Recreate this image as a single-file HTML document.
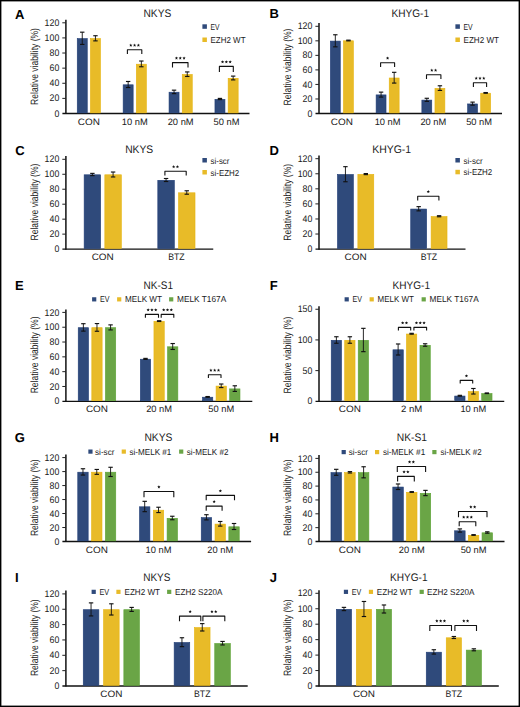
<!DOCTYPE html>
<html><head><meta charset="utf-8"><style>
html,body{margin:0;padding:0;background:#fff;}
body{width:520px;height:707px;overflow:hidden;}
svg{display:block;font-family:"Liberation Sans", sans-serif;text-rendering:geometricPrecision;}
</style></head><body>
<svg width="520" height="707" viewBox="0 0 520 707">
<rect x="0" y="0" width="520" height="707" fill="#fff"/>
<text x="15.00" y="18.70" font-size="13.0" text-anchor="start" font-weight="bold" fill="#000">A</text>
<text x="143.50" y="17.00" font-size="11.0" text-anchor="start" font-weight="normal" fill="#1a1a1a" textLength="27.80" lengthAdjust="spacingAndGlyphs">NKYS</text>
<line x1="65.90" y1="19.80" x2="65.90" y2="114.10" stroke="#111" stroke-width="1.5"/>
<line x1="62.40" y1="113.50" x2="249.50" y2="113.50" stroke="#111" stroke-width="1.35"/>
<text x="59.30" y="116.60" font-size="9.6" text-anchor="end" font-weight="normal" fill="#1a1a1a" textLength="4.89" lengthAdjust="spacingAndGlyphs">0</text>
<line x1="62.30" y1="98.38" x2="65.90" y2="98.38" stroke="#222" stroke-width="1.0"/>
<text x="59.30" y="101.48" font-size="9.6" text-anchor="end" font-weight="normal" fill="#1a1a1a" textLength="9.79" lengthAdjust="spacingAndGlyphs">20</text>
<line x1="62.30" y1="83.27" x2="65.90" y2="83.27" stroke="#222" stroke-width="1.0"/>
<text x="59.30" y="86.37" font-size="9.6" text-anchor="end" font-weight="normal" fill="#1a1a1a" textLength="9.79" lengthAdjust="spacingAndGlyphs">40</text>
<line x1="62.30" y1="68.15" x2="65.90" y2="68.15" stroke="#222" stroke-width="1.0"/>
<text x="59.30" y="71.25" font-size="9.6" text-anchor="end" font-weight="normal" fill="#1a1a1a" textLength="9.79" lengthAdjust="spacingAndGlyphs">60</text>
<line x1="62.30" y1="53.03" x2="65.90" y2="53.03" stroke="#222" stroke-width="1.0"/>
<text x="59.30" y="56.13" font-size="9.6" text-anchor="end" font-weight="normal" fill="#1a1a1a" textLength="9.79" lengthAdjust="spacingAndGlyphs">80</text>
<line x1="62.30" y1="37.92" x2="65.90" y2="37.92" stroke="#222" stroke-width="1.0"/>
<text x="59.30" y="41.02" font-size="9.6" text-anchor="end" font-weight="normal" fill="#1a1a1a" textLength="14.68" lengthAdjust="spacingAndGlyphs">100</text>
<line x1="62.30" y1="22.80" x2="65.90" y2="22.80" stroke="#222" stroke-width="1.0"/>
<text x="59.30" y="25.90" font-size="9.6" text-anchor="end" font-weight="normal" fill="#1a1a1a" textLength="14.68" lengthAdjust="spacingAndGlyphs">120</text>
<rect x="77.25" y="38.60" width="10.00" height="74.30" fill="#2f4a7b" stroke="#1f3c76" stroke-width="0.6"/>
<line x1="82.25" y1="32.18" x2="82.25" y2="44.42" stroke="#111" stroke-width="0.9"/>
<line x1="80.05" y1="32.18" x2="84.45" y2="32.18" stroke="#111" stroke-width="1.15"/>
<line x1="80.05" y1="44.42" x2="84.45" y2="44.42" stroke="#111" stroke-width="1.15"/>
<rect x="90.45" y="38.60" width="10.00" height="74.30" fill="#e8bb28" stroke="#e6b40c" stroke-width="0.6"/>
<line x1="95.45" y1="35.73" x2="95.45" y2="40.87" stroke="#111" stroke-width="0.9"/>
<line x1="93.25" y1="35.73" x2="97.65" y2="35.73" stroke="#111" stroke-width="1.15"/>
<line x1="93.25" y1="40.87" x2="97.65" y2="40.87" stroke="#111" stroke-width="1.15"/>
<text x="88.85" y="124.50" font-size="9.3" text-anchor="middle" font-weight="normal" fill="#1a1a1a" textLength="22.10" lengthAdjust="spacingAndGlyphs">CON</text>
<rect x="123.15" y="84.80" width="10.00" height="28.10" fill="#2f4a7b" stroke="#1f3c76" stroke-width="0.6"/>
<line x1="128.15" y1="81.48" x2="128.15" y2="87.52" stroke="#111" stroke-width="0.9"/>
<line x1="125.95" y1="81.48" x2="130.35" y2="81.48" stroke="#111" stroke-width="1.15"/>
<line x1="125.95" y1="87.52" x2="130.35" y2="87.52" stroke="#111" stroke-width="1.15"/>
<rect x="136.35" y="64.20" width="10.00" height="48.70" fill="#e8bb28" stroke="#e6b40c" stroke-width="0.6"/>
<line x1="141.35" y1="61.03" x2="141.35" y2="66.77" stroke="#111" stroke-width="0.9"/>
<line x1="139.15" y1="61.03" x2="143.55" y2="61.03" stroke="#111" stroke-width="1.15"/>
<line x1="139.15" y1="66.77" x2="143.55" y2="66.77" stroke="#111" stroke-width="1.15"/>
<text x="134.75" y="124.50" font-size="9.3" text-anchor="middle" font-weight="normal" fill="#1a1a1a" textLength="25.90" lengthAdjust="spacingAndGlyphs">10 nM</text>
<rect x="169.05" y="92.20" width="10.00" height="20.70" fill="#2f4a7b" stroke="#1f3c76" stroke-width="0.6"/>
<line x1="174.05" y1="90.16" x2="174.05" y2="93.64" stroke="#111" stroke-width="0.9"/>
<line x1="171.85" y1="90.16" x2="176.25" y2="90.16" stroke="#111" stroke-width="1.15"/>
<line x1="171.85" y1="93.64" x2="176.25" y2="93.64" stroke="#111" stroke-width="1.15"/>
<rect x="182.25" y="74.50" width="10.00" height="38.40" fill="#e8bb28" stroke="#e6b40c" stroke-width="0.6"/>
<line x1="187.25" y1="71.93" x2="187.25" y2="76.46" stroke="#111" stroke-width="0.9"/>
<line x1="185.05" y1="71.93" x2="189.45" y2="71.93" stroke="#111" stroke-width="1.15"/>
<line x1="185.05" y1="76.46" x2="189.45" y2="76.46" stroke="#111" stroke-width="1.15"/>
<text x="180.65" y="124.50" font-size="9.3" text-anchor="middle" font-weight="normal" fill="#1a1a1a" textLength="25.90" lengthAdjust="spacingAndGlyphs">20 nM</text>
<rect x="214.95" y="99.30" width="10.00" height="13.60" fill="#2f4a7b" stroke="#1f3c76" stroke-width="0.6"/>
<line x1="219.95" y1="98.40" x2="219.95" y2="99.61" stroke="#111" stroke-width="0.9"/>
<line x1="217.75" y1="98.40" x2="222.15" y2="98.40" stroke="#111" stroke-width="1.15"/>
<line x1="217.75" y1="99.61" x2="222.15" y2="99.61" stroke="#111" stroke-width="1.15"/>
<rect x="228.15" y="78.30" width="10.00" height="34.60" fill="#e8bb28" stroke="#e6b40c" stroke-width="0.6"/>
<line x1="233.15" y1="76.11" x2="233.15" y2="79.89" stroke="#111" stroke-width="0.9"/>
<line x1="230.95" y1="76.11" x2="235.35" y2="76.11" stroke="#111" stroke-width="1.15"/>
<line x1="230.95" y1="79.89" x2="235.35" y2="79.89" stroke="#111" stroke-width="1.15"/>
<text x="226.55" y="124.50" font-size="9.3" text-anchor="middle" font-weight="normal" fill="#1a1a1a" textLength="25.90" lengthAdjust="spacingAndGlyphs">50 nM</text>
<polyline points="127.40,53.90 127.40,49.80 141.80,49.80 141.80,53.90" fill="none" stroke="#111" stroke-width="1.1" stroke-linejoin="round"/>
<polygon points="130.80,43.60 131.26,44.67 132.42,44.77 131.54,45.54 131.80,46.68 130.80,46.08 129.80,46.68 130.06,45.54 129.18,44.77 130.34,44.67" fill="#111"/>
<polygon points="134.60,43.60 135.06,44.67 136.22,44.77 135.34,45.54 135.60,46.68 134.60,46.08 133.60,46.68 133.86,45.54 132.98,44.77 134.14,44.67" fill="#111"/>
<polygon points="138.40,43.60 138.86,44.67 140.02,44.77 139.14,45.54 139.40,46.68 138.40,46.08 137.40,46.68 137.66,45.54 136.78,44.77 137.94,44.67" fill="#111"/>
<polyline points="172.50,67.40 172.50,62.60 188.00,62.60 188.00,67.40" fill="none" stroke="#111" stroke-width="1.1" stroke-linejoin="round"/>
<polygon points="176.45,56.40 176.91,57.47 178.07,57.57 177.19,58.34 177.45,59.48 176.45,58.88 175.45,59.48 175.71,58.34 174.83,57.57 175.99,57.47" fill="#111"/>
<polygon points="180.25,56.40 180.71,57.47 181.87,57.57 180.99,58.34 181.25,59.48 180.25,58.88 179.25,59.48 179.51,58.34 178.63,57.57 179.79,57.47" fill="#111"/>
<polygon points="184.05,56.40 184.51,57.47 185.67,57.57 184.79,58.34 185.05,59.48 184.05,58.88 183.05,59.48 183.31,58.34 182.43,57.57 183.59,57.47" fill="#111"/>
<polyline points="219.40,71.90 219.40,66.40 233.30,66.40 233.30,71.90" fill="none" stroke="#111" stroke-width="1.1" stroke-linejoin="round"/>
<polygon points="222.55,60.20 223.01,61.27 224.17,61.37 223.29,62.14 223.55,63.28 222.55,62.68 221.55,63.28 221.81,62.14 220.93,61.37 222.09,61.27" fill="#111"/>
<polygon points="226.35,60.20 226.81,61.27 227.97,61.37 227.09,62.14 227.35,63.28 226.35,62.68 225.35,63.28 225.61,62.14 224.73,61.37 225.89,61.27" fill="#111"/>
<polygon points="230.15,60.20 230.61,61.27 231.77,61.37 230.89,62.14 231.15,63.28 230.15,62.68 229.15,63.28 229.41,62.14 228.53,61.37 229.69,61.27" fill="#111"/>
<rect x="202.40" y="24.30" width="4.50" height="4.50" fill="#2f4a7b"/>
<text x="210.50" y="29.80" font-size="8.6" text-anchor="start" font-weight="normal" fill="#1a1a1a" textLength="9.00" lengthAdjust="spacingAndGlyphs">EV</text>
<rect x="202.40" y="37.50" width="4.50" height="4.50" fill="#e8bb28"/>
<text x="210.50" y="43.00" font-size="8.6" text-anchor="start" font-weight="normal" fill="#1a1a1a" textLength="35.00" lengthAdjust="spacingAndGlyphs">EZH2 WT</text>
<text transform="translate(37.60,66.50) rotate(-90)" x="0" y="0" font-size="10.6" text-anchor="middle" fill="#1a1a1a" textLength="76.8" lengthAdjust="spacingAndGlyphs">Relative viability (%)</text>
<text x="269.50" y="18.40" font-size="13.0" text-anchor="start" font-weight="bold" fill="#000">B</text>
<text x="391.50" y="17.00" font-size="11.0" text-anchor="start" font-weight="normal" fill="#1a1a1a" textLength="37.50" lengthAdjust="spacingAndGlyphs">KHYG-1</text>
<line x1="319.00" y1="23.00" x2="319.00" y2="114.10" stroke="#111" stroke-width="1.5"/>
<line x1="315.50" y1="113.50" x2="502.00" y2="113.50" stroke="#111" stroke-width="1.35"/>
<text x="312.40" y="116.60" font-size="9.6" text-anchor="end" font-weight="normal" fill="#1a1a1a" textLength="4.89" lengthAdjust="spacingAndGlyphs">0</text>
<line x1="315.40" y1="98.97" x2="319.00" y2="98.97" stroke="#222" stroke-width="1.0"/>
<text x="312.40" y="102.07" font-size="9.6" text-anchor="end" font-weight="normal" fill="#1a1a1a" textLength="9.79" lengthAdjust="spacingAndGlyphs">20</text>
<line x1="315.40" y1="84.43" x2="319.00" y2="84.43" stroke="#222" stroke-width="1.0"/>
<text x="312.40" y="87.53" font-size="9.6" text-anchor="end" font-weight="normal" fill="#1a1a1a" textLength="9.79" lengthAdjust="spacingAndGlyphs">40</text>
<line x1="315.40" y1="69.90" x2="319.00" y2="69.90" stroke="#222" stroke-width="1.0"/>
<text x="312.40" y="73.00" font-size="9.6" text-anchor="end" font-weight="normal" fill="#1a1a1a" textLength="9.79" lengthAdjust="spacingAndGlyphs">60</text>
<line x1="315.40" y1="55.37" x2="319.00" y2="55.37" stroke="#222" stroke-width="1.0"/>
<text x="312.40" y="58.47" font-size="9.6" text-anchor="end" font-weight="normal" fill="#1a1a1a" textLength="9.79" lengthAdjust="spacingAndGlyphs">80</text>
<line x1="315.40" y1="40.83" x2="319.00" y2="40.83" stroke="#222" stroke-width="1.0"/>
<text x="312.40" y="43.93" font-size="9.6" text-anchor="end" font-weight="normal" fill="#1a1a1a" textLength="14.68" lengthAdjust="spacingAndGlyphs">100</text>
<line x1="315.40" y1="26.30" x2="319.00" y2="26.30" stroke="#222" stroke-width="1.0"/>
<text x="312.40" y="29.40" font-size="9.6" text-anchor="end" font-weight="normal" fill="#1a1a1a" textLength="14.68" lengthAdjust="spacingAndGlyphs">120</text>
<rect x="330.37" y="41.10" width="9.90" height="71.80" fill="#2f4a7b" stroke="#1f3c76" stroke-width="0.6"/>
<line x1="335.32" y1="34.77" x2="335.32" y2="46.83" stroke="#111" stroke-width="0.9"/>
<line x1="333.12" y1="34.77" x2="337.52" y2="34.77" stroke="#111" stroke-width="1.15"/>
<line x1="333.12" y1="46.83" x2="337.52" y2="46.83" stroke="#111" stroke-width="1.15"/>
<rect x="343.47" y="40.80" width="9.90" height="72.10" fill="#e8bb28" stroke="#e6b40c" stroke-width="0.6"/>
<line x1="348.43" y1="40.14" x2="348.43" y2="40.86" stroke="#111" stroke-width="0.9"/>
<line x1="346.23" y1="40.14" x2="350.62" y2="40.14" stroke="#111" stroke-width="1.15"/>
<line x1="346.23" y1="40.86" x2="350.62" y2="40.86" stroke="#111" stroke-width="1.15"/>
<text x="341.88" y="124.50" font-size="9.3" text-anchor="middle" font-weight="normal" fill="#1a1a1a" textLength="22.10" lengthAdjust="spacingAndGlyphs">CON</text>
<rect x="376.12" y="94.90" width="9.90" height="18.00" fill="#2f4a7b" stroke="#1f3c76" stroke-width="0.6"/>
<line x1="381.07" y1="92.13" x2="381.07" y2="97.07" stroke="#111" stroke-width="0.9"/>
<line x1="378.88" y1="92.13" x2="383.27" y2="92.13" stroke="#111" stroke-width="1.15"/>
<line x1="378.88" y1="97.07" x2="383.27" y2="97.07" stroke="#111" stroke-width="1.15"/>
<rect x="389.22" y="78.00" width="9.90" height="34.90" fill="#e8bb28" stroke="#e6b40c" stroke-width="0.6"/>
<line x1="394.18" y1="72.32" x2="394.18" y2="83.07" stroke="#111" stroke-width="0.9"/>
<line x1="391.98" y1="72.32" x2="396.38" y2="72.32" stroke="#111" stroke-width="1.15"/>
<line x1="391.98" y1="83.07" x2="396.38" y2="83.07" stroke="#111" stroke-width="1.15"/>
<text x="387.62" y="124.50" font-size="9.3" text-anchor="middle" font-weight="normal" fill="#1a1a1a" textLength="25.90" lengthAdjust="spacingAndGlyphs">10 nM</text>
<rect x="421.87" y="100.10" width="9.90" height="12.80" fill="#2f4a7b" stroke="#1f3c76" stroke-width="0.6"/>
<line x1="426.82" y1="98.28" x2="426.82" y2="101.33" stroke="#111" stroke-width="0.9"/>
<line x1="424.62" y1="98.28" x2="429.02" y2="98.28" stroke="#111" stroke-width="1.15"/>
<line x1="424.62" y1="101.33" x2="429.02" y2="101.33" stroke="#111" stroke-width="1.15"/>
<rect x="434.97" y="88.40" width="9.90" height="24.50" fill="#e8bb28" stroke="#e6b40c" stroke-width="0.6"/>
<line x1="439.93" y1="85.78" x2="439.93" y2="90.43" stroke="#111" stroke-width="0.9"/>
<line x1="437.73" y1="85.78" x2="442.12" y2="85.78" stroke="#111" stroke-width="1.15"/>
<line x1="437.73" y1="90.43" x2="442.12" y2="90.43" stroke="#111" stroke-width="1.15"/>
<text x="433.38" y="124.50" font-size="9.3" text-anchor="middle" font-weight="normal" fill="#1a1a1a" textLength="25.90" lengthAdjust="spacingAndGlyphs">20 nM</text>
<rect x="467.62" y="103.95" width="9.90" height="8.95" fill="#2f4a7b" stroke="#1f3c76" stroke-width="0.6"/>
<line x1="472.57" y1="102.12" x2="472.57" y2="105.17" stroke="#111" stroke-width="0.9"/>
<line x1="470.38" y1="102.12" x2="474.77" y2="102.12" stroke="#111" stroke-width="1.15"/>
<line x1="470.38" y1="105.17" x2="474.77" y2="105.17" stroke="#111" stroke-width="1.15"/>
<rect x="480.72" y="93.20" width="9.90" height="19.70" fill="#e8bb28" stroke="#e6b40c" stroke-width="0.6"/>
<line x1="485.68" y1="92.54" x2="485.68" y2="93.26" stroke="#111" stroke-width="0.9"/>
<line x1="483.48" y1="92.54" x2="487.88" y2="92.54" stroke="#111" stroke-width="1.15"/>
<line x1="483.48" y1="93.26" x2="487.88" y2="93.26" stroke="#111" stroke-width="1.15"/>
<text x="479.12" y="124.50" font-size="9.3" text-anchor="middle" font-weight="normal" fill="#1a1a1a" textLength="25.90" lengthAdjust="spacingAndGlyphs">50 nM</text>
<polyline points="380.60,67.00 380.60,62.70 394.60,62.70 394.60,67.00" fill="none" stroke="#111" stroke-width="1.1" stroke-linejoin="round"/>
<polygon points="387.60,56.50 388.06,57.57 389.22,57.67 388.34,58.44 388.60,59.58 387.60,58.98 386.60,59.58 386.86,58.44 385.98,57.67 387.14,57.57" fill="#111"/>
<polyline points="426.50,79.10 426.50,74.80 440.90,74.80 440.90,79.10" fill="none" stroke="#111" stroke-width="1.1" stroke-linejoin="round"/>
<polygon points="431.80,68.60 432.26,69.67 433.42,69.77 432.54,70.54 432.80,71.68 431.80,71.08 430.80,71.68 431.06,70.54 430.18,69.77 431.34,69.67" fill="#111"/>
<polygon points="435.60,68.60 436.06,69.67 437.22,69.77 436.34,70.54 436.60,71.68 435.60,71.08 434.60,71.68 434.86,70.54 433.98,69.77 435.14,69.67" fill="#111"/>
<polyline points="473.40,87.00 473.40,82.80 486.60,82.80 486.60,87.00" fill="none" stroke="#111" stroke-width="1.1" stroke-linejoin="round"/>
<polygon points="476.20,76.60 476.66,77.67 477.82,77.77 476.94,78.54 477.20,79.68 476.20,79.08 475.20,79.68 475.46,78.54 474.58,77.77 475.74,77.67" fill="#111"/>
<polygon points="480.00,76.60 480.46,77.67 481.62,77.77 480.74,78.54 481.00,79.68 480.00,79.08 479.00,79.68 479.26,78.54 478.38,77.77 479.54,77.67" fill="#111"/>
<polygon points="483.80,76.60 484.26,77.67 485.42,77.77 484.54,78.54 484.80,79.68 483.80,79.08 482.80,79.68 483.06,78.54 482.18,77.77 483.34,77.67" fill="#111"/>
<rect x="455.40" y="24.30" width="4.50" height="4.50" fill="#2f4a7b"/>
<text x="463.50" y="29.80" font-size="8.6" text-anchor="start" font-weight="normal" fill="#1a1a1a" textLength="9.20" lengthAdjust="spacingAndGlyphs">EV</text>
<rect x="455.40" y="37.50" width="4.50" height="4.50" fill="#e8bb28"/>
<text x="463.50" y="43.00" font-size="8.6" text-anchor="start" font-weight="normal" fill="#1a1a1a" textLength="35.50" lengthAdjust="spacingAndGlyphs">EZH2 WT</text>
<text transform="translate(290.80,67.00) rotate(-90)" x="0" y="0" font-size="10.6" text-anchor="middle" fill="#1a1a1a" textLength="76.8" lengthAdjust="spacingAndGlyphs">Relative viability (%)</text>
<text x="15.30" y="154.60" font-size="13.0" text-anchor="start" font-weight="bold" fill="#000">C</text>
<text x="125.20" y="153.20" font-size="11.0" text-anchor="start" font-weight="normal" fill="#1a1a1a" textLength="28.00" lengthAdjust="spacingAndGlyphs">NKYS</text>
<line x1="65.90" y1="156.00" x2="65.90" y2="249.70" stroke="#111" stroke-width="1.5"/>
<line x1="62.40" y1="249.10" x2="213.25" y2="249.10" stroke="#111" stroke-width="1.35"/>
<text x="59.30" y="252.20" font-size="9.6" text-anchor="end" font-weight="normal" fill="#1a1a1a" textLength="4.89" lengthAdjust="spacingAndGlyphs">0</text>
<line x1="62.30" y1="234.13" x2="65.90" y2="234.13" stroke="#222" stroke-width="1.0"/>
<text x="59.30" y="237.23" font-size="9.6" text-anchor="end" font-weight="normal" fill="#1a1a1a" textLength="9.79" lengthAdjust="spacingAndGlyphs">20</text>
<line x1="62.30" y1="219.17" x2="65.90" y2="219.17" stroke="#222" stroke-width="1.0"/>
<text x="59.30" y="222.27" font-size="9.6" text-anchor="end" font-weight="normal" fill="#1a1a1a" textLength="9.79" lengthAdjust="spacingAndGlyphs">40</text>
<line x1="62.30" y1="204.20" x2="65.90" y2="204.20" stroke="#222" stroke-width="1.0"/>
<text x="59.30" y="207.30" font-size="9.6" text-anchor="end" font-weight="normal" fill="#1a1a1a" textLength="9.79" lengthAdjust="spacingAndGlyphs">60</text>
<line x1="62.30" y1="189.23" x2="65.90" y2="189.23" stroke="#222" stroke-width="1.0"/>
<text x="59.30" y="192.33" font-size="9.6" text-anchor="end" font-weight="normal" fill="#1a1a1a" textLength="9.79" lengthAdjust="spacingAndGlyphs">80</text>
<line x1="62.30" y1="174.27" x2="65.90" y2="174.27" stroke="#222" stroke-width="1.0"/>
<text x="59.30" y="177.37" font-size="9.6" text-anchor="end" font-weight="normal" fill="#1a1a1a" textLength="14.68" lengthAdjust="spacingAndGlyphs">100</text>
<line x1="62.30" y1="159.30" x2="65.90" y2="159.30" stroke="#222" stroke-width="1.0"/>
<text x="59.30" y="162.40" font-size="9.6" text-anchor="end" font-weight="normal" fill="#1a1a1a" textLength="14.68" lengthAdjust="spacingAndGlyphs">120</text>
<rect x="84.14" y="174.80" width="16.50" height="73.70" fill="#2f4a7b" stroke="#1f3c76" stroke-width="0.6"/>
<line x1="92.39" y1="173.38" x2="92.39" y2="175.62" stroke="#111" stroke-width="0.9"/>
<line x1="90.19" y1="173.38" x2="94.59" y2="173.38" stroke="#111" stroke-width="1.15"/>
<line x1="90.19" y1="175.62" x2="94.59" y2="175.62" stroke="#111" stroke-width="1.15"/>
<rect x="104.84" y="174.80" width="16.50" height="73.70" fill="#e8bb28" stroke="#e6b40c" stroke-width="0.6"/>
<line x1="113.09" y1="172.03" x2="113.09" y2="176.97" stroke="#111" stroke-width="0.9"/>
<line x1="110.89" y1="172.03" x2="115.29" y2="172.03" stroke="#111" stroke-width="1.15"/>
<line x1="110.89" y1="176.97" x2="115.29" y2="176.97" stroke="#111" stroke-width="1.15"/>
<text x="102.74" y="260.10" font-size="9.3" text-anchor="middle" font-weight="normal" fill="#1a1a1a" textLength="22.10" lengthAdjust="spacingAndGlyphs">CON</text>
<rect x="157.81" y="180.30" width="16.50" height="68.20" fill="#2f4a7b" stroke="#1f3c76" stroke-width="0.6"/>
<line x1="166.06" y1="178.50" x2="166.06" y2="181.50" stroke="#111" stroke-width="0.9"/>
<line x1="163.86" y1="178.50" x2="168.26" y2="178.50" stroke="#111" stroke-width="1.15"/>
<line x1="163.86" y1="181.50" x2="168.26" y2="181.50" stroke="#111" stroke-width="1.15"/>
<rect x="178.51" y="192.80" width="16.50" height="55.70" fill="#e8bb28" stroke="#e6b40c" stroke-width="0.6"/>
<line x1="186.76" y1="190.78" x2="186.76" y2="194.22" stroke="#111" stroke-width="0.9"/>
<line x1="184.56" y1="190.78" x2="188.96" y2="190.78" stroke="#111" stroke-width="1.15"/>
<line x1="184.56" y1="194.22" x2="188.96" y2="194.22" stroke="#111" stroke-width="1.15"/>
<text x="176.41" y="260.10" font-size="9.3" text-anchor="middle" font-weight="normal" fill="#1a1a1a" textLength="16.50" lengthAdjust="spacingAndGlyphs">BTZ</text>
<polyline points="164.90,175.60 164.90,171.30 186.20,171.30 186.20,175.60" fill="none" stroke="#111" stroke-width="1.1" stroke-linejoin="round"/>
<polygon points="173.65,165.10 174.11,166.17 175.27,166.27 174.39,167.04 174.65,168.18 173.65,167.58 172.65,168.18 172.91,167.04 172.03,166.27 173.19,166.17" fill="#111"/>
<polygon points="177.45,165.10 177.91,166.17 179.07,166.27 178.19,167.04 178.45,168.18 177.45,167.58 176.45,168.18 176.71,167.04 175.83,166.27 176.99,166.17" fill="#111"/>
<rect x="202.40" y="158.00" width="4.50" height="4.50" fill="#2f4a7b"/>
<text x="210.50" y="163.50" font-size="8.6" text-anchor="start" font-weight="normal" fill="#1a1a1a" textLength="19.00" lengthAdjust="spacingAndGlyphs">si-scr</text>
<rect x="202.40" y="170.00" width="4.50" height="4.50" fill="#e8bb28"/>
<text x="210.50" y="175.50" font-size="8.6" text-anchor="start" font-weight="normal" fill="#1a1a1a" textLength="28.70" lengthAdjust="spacingAndGlyphs">si-EZH2</text>
<text transform="translate(37.60,202.10) rotate(-90)" x="0" y="0" font-size="10.6" text-anchor="middle" fill="#1a1a1a" textLength="76.8" lengthAdjust="spacingAndGlyphs">Relative viability (%)</text>
<text x="269.50" y="154.70" font-size="13.0" text-anchor="start" font-weight="bold" fill="#000">D</text>
<text x="372.20" y="153.20" font-size="11.0" text-anchor="start" font-weight="normal" fill="#1a1a1a" textLength="39.00" lengthAdjust="spacingAndGlyphs">KHYG-1</text>
<line x1="319.00" y1="155.60" x2="319.00" y2="249.70" stroke="#111" stroke-width="1.5"/>
<line x1="315.50" y1="249.10" x2="465.50" y2="249.10" stroke="#111" stroke-width="1.35"/>
<text x="312.40" y="252.20" font-size="9.6" text-anchor="end" font-weight="normal" fill="#1a1a1a" textLength="4.89" lengthAdjust="spacingAndGlyphs">0</text>
<line x1="315.40" y1="234.03" x2="319.00" y2="234.03" stroke="#222" stroke-width="1.0"/>
<text x="312.40" y="237.13" font-size="9.6" text-anchor="end" font-weight="normal" fill="#1a1a1a" textLength="9.79" lengthAdjust="spacingAndGlyphs">20</text>
<line x1="315.40" y1="218.97" x2="319.00" y2="218.97" stroke="#222" stroke-width="1.0"/>
<text x="312.40" y="222.07" font-size="9.6" text-anchor="end" font-weight="normal" fill="#1a1a1a" textLength="9.79" lengthAdjust="spacingAndGlyphs">40</text>
<line x1="315.40" y1="203.90" x2="319.00" y2="203.90" stroke="#222" stroke-width="1.0"/>
<text x="312.40" y="207.00" font-size="9.6" text-anchor="end" font-weight="normal" fill="#1a1a1a" textLength="9.79" lengthAdjust="spacingAndGlyphs">60</text>
<line x1="315.40" y1="188.83" x2="319.00" y2="188.83" stroke="#222" stroke-width="1.0"/>
<text x="312.40" y="191.93" font-size="9.6" text-anchor="end" font-weight="normal" fill="#1a1a1a" textLength="9.79" lengthAdjust="spacingAndGlyphs">80</text>
<line x1="315.40" y1="173.77" x2="319.00" y2="173.77" stroke="#222" stroke-width="1.0"/>
<text x="312.40" y="176.87" font-size="9.6" text-anchor="end" font-weight="normal" fill="#1a1a1a" textLength="14.68" lengthAdjust="spacingAndGlyphs">100</text>
<line x1="315.40" y1="158.70" x2="319.00" y2="158.70" stroke="#222" stroke-width="1.0"/>
<text x="312.40" y="161.80" font-size="9.6" text-anchor="end" font-weight="normal" fill="#1a1a1a" textLength="14.68" lengthAdjust="spacingAndGlyphs">120</text>
<rect x="337.47" y="174.50" width="15.90" height="74.00" fill="#2f4a7b" stroke="#1f3c76" stroke-width="0.6"/>
<line x1="345.43" y1="166.67" x2="345.43" y2="181.74" stroke="#111" stroke-width="0.9"/>
<line x1="343.23" y1="166.67" x2="347.62" y2="166.67" stroke="#111" stroke-width="1.15"/>
<line x1="343.23" y1="181.74" x2="347.62" y2="181.74" stroke="#111" stroke-width="1.15"/>
<rect x="357.87" y="174.40" width="15.90" height="74.10" fill="#e8bb28" stroke="#e6b40c" stroke-width="0.6"/>
<line x1="365.82" y1="173.57" x2="365.82" y2="174.63" stroke="#111" stroke-width="0.9"/>
<line x1="363.62" y1="173.57" x2="368.02" y2="173.57" stroke="#111" stroke-width="1.15"/>
<line x1="363.62" y1="174.63" x2="368.02" y2="174.63" stroke="#111" stroke-width="1.15"/>
<text x="355.62" y="260.10" font-size="9.3" text-anchor="middle" font-weight="normal" fill="#1a1a1a" textLength="22.10" lengthAdjust="spacingAndGlyphs">CON</text>
<rect x="410.72" y="209.05" width="15.90" height="39.45" fill="#2f4a7b" stroke="#1f3c76" stroke-width="0.6"/>
<line x1="418.68" y1="206.64" x2="418.68" y2="210.86" stroke="#111" stroke-width="0.9"/>
<line x1="416.48" y1="206.64" x2="420.88" y2="206.64" stroke="#111" stroke-width="1.15"/>
<line x1="416.48" y1="210.86" x2="420.88" y2="210.86" stroke="#111" stroke-width="1.15"/>
<rect x="431.12" y="216.55" width="15.90" height="31.95" fill="#e8bb28" stroke="#e6b40c" stroke-width="0.6"/>
<line x1="439.07" y1="215.72" x2="439.07" y2="216.77" stroke="#111" stroke-width="0.9"/>
<line x1="436.88" y1="215.72" x2="441.27" y2="215.72" stroke="#111" stroke-width="1.15"/>
<line x1="436.88" y1="216.77" x2="441.27" y2="216.77" stroke="#111" stroke-width="1.15"/>
<text x="428.88" y="260.10" font-size="9.3" text-anchor="middle" font-weight="normal" fill="#1a1a1a" textLength="16.50" lengthAdjust="spacingAndGlyphs">BTZ</text>
<polyline points="417.70,200.40 417.70,196.20 438.90,196.20 438.90,200.40" fill="none" stroke="#111" stroke-width="1.1" stroke-linejoin="round"/>
<polygon points="428.30,190.00 428.76,191.07 429.92,191.17 429.04,191.94 429.30,193.08 428.30,192.48 427.30,193.08 427.56,191.94 426.68,191.17 427.84,191.07" fill="#111"/>
<rect x="455.40" y="158.00" width="4.50" height="4.50" fill="#2f4a7b"/>
<text x="463.50" y="163.50" font-size="8.6" text-anchor="start" font-weight="normal" fill="#1a1a1a" textLength="19.20" lengthAdjust="spacingAndGlyphs">si-scr</text>
<rect x="455.40" y="169.80" width="4.50" height="4.50" fill="#e8bb28"/>
<text x="463.50" y="175.30" font-size="8.6" text-anchor="start" font-weight="normal" fill="#1a1a1a" textLength="28.70" lengthAdjust="spacingAndGlyphs">si-EZH2</text>
<text transform="translate(290.80,202.30) rotate(-90)" x="0" y="0" font-size="10.6" text-anchor="middle" fill="#1a1a1a" textLength="76.8" lengthAdjust="spacingAndGlyphs">Relative viability (%)</text>
<text x="15.10" y="290.30" font-size="13.0" text-anchor="start" font-weight="bold" fill="#000">E</text>
<text x="143.60" y="288.80" font-size="11.0" text-anchor="start" font-weight="normal" fill="#1a1a1a" textLength="29.40" lengthAdjust="spacingAndGlyphs">NK-S1</text>
<line x1="65.90" y1="309.40" x2="65.90" y2="401.90" stroke="#111" stroke-width="1.5"/>
<line x1="62.40" y1="401.30" x2="252.30" y2="401.30" stroke="#111" stroke-width="1.35"/>
<text x="59.30" y="404.40" font-size="9.6" text-anchor="end" font-weight="normal" fill="#1a1a1a" textLength="4.89" lengthAdjust="spacingAndGlyphs">0</text>
<line x1="62.30" y1="386.48" x2="65.90" y2="386.48" stroke="#222" stroke-width="1.0"/>
<text x="59.30" y="389.58" font-size="9.6" text-anchor="end" font-weight="normal" fill="#1a1a1a" textLength="9.79" lengthAdjust="spacingAndGlyphs">20</text>
<line x1="62.30" y1="371.67" x2="65.90" y2="371.67" stroke="#222" stroke-width="1.0"/>
<text x="59.30" y="374.77" font-size="9.6" text-anchor="end" font-weight="normal" fill="#1a1a1a" textLength="9.79" lengthAdjust="spacingAndGlyphs">40</text>
<line x1="62.30" y1="356.85" x2="65.90" y2="356.85" stroke="#222" stroke-width="1.0"/>
<text x="59.30" y="359.95" font-size="9.6" text-anchor="end" font-weight="normal" fill="#1a1a1a" textLength="9.79" lengthAdjust="spacingAndGlyphs">60</text>
<line x1="62.30" y1="342.03" x2="65.90" y2="342.03" stroke="#222" stroke-width="1.0"/>
<text x="59.30" y="345.13" font-size="9.6" text-anchor="end" font-weight="normal" fill="#1a1a1a" textLength="9.79" lengthAdjust="spacingAndGlyphs">80</text>
<line x1="62.30" y1="327.22" x2="65.90" y2="327.22" stroke="#222" stroke-width="1.0"/>
<text x="59.30" y="330.32" font-size="9.6" text-anchor="end" font-weight="normal" fill="#1a1a1a" textLength="14.68" lengthAdjust="spacingAndGlyphs">100</text>
<line x1="62.30" y1="312.40" x2="65.90" y2="312.40" stroke="#222" stroke-width="1.0"/>
<text x="59.30" y="315.50" font-size="9.6" text-anchor="end" font-weight="normal" fill="#1a1a1a" textLength="14.68" lengthAdjust="spacingAndGlyphs">120</text>
<rect x="78.22" y="327.70" width="10.30" height="73.00" fill="#2f4a7b" stroke="#1f3c76" stroke-width="0.6"/>
<line x1="83.37" y1="323.70" x2="83.37" y2="331.11" stroke="#111" stroke-width="0.9"/>
<line x1="81.17" y1="323.70" x2="85.57" y2="323.70" stroke="#111" stroke-width="1.15"/>
<line x1="81.17" y1="331.11" x2="85.57" y2="331.11" stroke="#111" stroke-width="1.15"/>
<rect x="91.82" y="327.70" width="10.30" height="73.00" fill="#e8bb28" stroke="#e6b40c" stroke-width="0.6"/>
<line x1="96.97" y1="323.55" x2="96.97" y2="331.25" stroke="#111" stroke-width="0.9"/>
<line x1="94.77" y1="323.55" x2="99.17" y2="323.55" stroke="#111" stroke-width="1.15"/>
<line x1="94.77" y1="331.25" x2="99.17" y2="331.25" stroke="#111" stroke-width="1.15"/>
<rect x="105.42" y="327.70" width="10.30" height="73.00" fill="#6aa546" stroke="#5ba232" stroke-width="0.6"/>
<line x1="110.57" y1="324.88" x2="110.57" y2="329.92" stroke="#111" stroke-width="0.9"/>
<line x1="108.37" y1="324.88" x2="112.77" y2="324.88" stroke="#111" stroke-width="1.15"/>
<line x1="108.37" y1="329.92" x2="112.77" y2="329.92" stroke="#111" stroke-width="1.15"/>
<text x="96.97" y="412.30" font-size="9.3" text-anchor="middle" font-weight="normal" fill="#1a1a1a" textLength="22.10" lengthAdjust="spacingAndGlyphs">CON</text>
<rect x="140.35" y="359.20" width="10.30" height="41.50" fill="#2f4a7b" stroke="#1f3c76" stroke-width="0.6"/>
<line x1="145.50" y1="358.38" x2="145.50" y2="359.42" stroke="#111" stroke-width="0.9"/>
<line x1="143.30" y1="358.38" x2="147.70" y2="358.38" stroke="#111" stroke-width="1.15"/>
<line x1="143.30" y1="359.42" x2="147.70" y2="359.42" stroke="#111" stroke-width="1.15"/>
<rect x="153.95" y="321.40" width="10.30" height="79.30" fill="#e8bb28" stroke="#e6b40c" stroke-width="0.6"/>
<line x1="159.10" y1="320.73" x2="159.10" y2="321.47" stroke="#111" stroke-width="0.9"/>
<line x1="156.90" y1="320.73" x2="161.30" y2="320.73" stroke="#111" stroke-width="1.15"/>
<line x1="156.90" y1="321.47" x2="161.30" y2="321.47" stroke="#111" stroke-width="1.15"/>
<rect x="167.55" y="346.80" width="10.30" height="53.90" fill="#6aa546" stroke="#5ba232" stroke-width="0.6"/>
<line x1="172.70" y1="343.54" x2="172.70" y2="349.46" stroke="#111" stroke-width="0.9"/>
<line x1="170.50" y1="343.54" x2="174.90" y2="343.54" stroke="#111" stroke-width="1.15"/>
<line x1="170.50" y1="349.46" x2="174.90" y2="349.46" stroke="#111" stroke-width="1.15"/>
<text x="159.10" y="412.30" font-size="9.3" text-anchor="middle" font-weight="normal" fill="#1a1a1a" textLength="25.90" lengthAdjust="spacingAndGlyphs">20 nM</text>
<rect x="202.48" y="397.20" width="10.30" height="3.50" fill="#2f4a7b" stroke="#1f3c76" stroke-width="0.6"/>
<line x1="207.63" y1="396.53" x2="207.63" y2="397.27" stroke="#111" stroke-width="0.9"/>
<line x1="205.43" y1="396.53" x2="209.83" y2="396.53" stroke="#111" stroke-width="1.15"/>
<line x1="205.43" y1="397.27" x2="209.83" y2="397.27" stroke="#111" stroke-width="1.15"/>
<rect x="216.08" y="386.10" width="10.30" height="14.60" fill="#e8bb28" stroke="#e6b40c" stroke-width="0.6"/>
<line x1="221.23" y1="384.02" x2="221.23" y2="387.58" stroke="#111" stroke-width="0.9"/>
<line x1="219.03" y1="384.02" x2="223.43" y2="384.02" stroke="#111" stroke-width="1.15"/>
<line x1="219.03" y1="387.58" x2="223.43" y2="387.58" stroke="#111" stroke-width="1.15"/>
<rect x="229.68" y="388.90" width="10.30" height="11.80" fill="#6aa546" stroke="#5ba232" stroke-width="0.6"/>
<line x1="234.83" y1="385.79" x2="234.83" y2="391.42" stroke="#111" stroke-width="0.9"/>
<line x1="232.63" y1="385.79" x2="237.03" y2="385.79" stroke="#111" stroke-width="1.15"/>
<line x1="232.63" y1="391.42" x2="237.03" y2="391.42" stroke="#111" stroke-width="1.15"/>
<text x="221.23" y="412.30" font-size="9.3" text-anchor="middle" font-weight="normal" fill="#1a1a1a" textLength="25.90" lengthAdjust="spacingAndGlyphs">50 nM</text>
<polyline points="145.40,317.70 145.40,314.40 158.50,314.40 158.50,317.70" fill="none" stroke="#111" stroke-width="1.1" stroke-linejoin="round"/>
<polygon points="148.15,308.20 148.61,309.27 149.77,309.37 148.89,310.14 149.15,311.28 148.15,310.68 147.15,311.28 147.41,310.14 146.53,309.37 147.69,309.27" fill="#111"/>
<polygon points="151.95,308.20 152.41,309.27 153.57,309.37 152.69,310.14 152.95,311.28 151.95,310.68 150.95,311.28 151.21,310.14 150.33,309.37 151.49,309.27" fill="#111"/>
<polygon points="155.75,308.20 156.21,309.27 157.37,309.37 156.49,310.14 156.75,311.28 155.75,310.68 154.75,311.28 155.01,310.14 154.13,309.37 155.29,309.27" fill="#111"/>
<polyline points="161.20,317.70 161.20,314.40 173.80,314.40 173.80,317.70" fill="none" stroke="#111" stroke-width="1.1" stroke-linejoin="round"/>
<polygon points="163.70,308.20 164.16,309.27 165.32,309.37 164.44,310.14 164.70,311.28 163.70,310.68 162.70,311.28 162.96,310.14 162.08,309.37 163.24,309.27" fill="#111"/>
<polygon points="167.50,308.20 167.96,309.27 169.12,309.37 168.24,310.14 168.50,311.28 167.50,310.68 166.50,311.28 166.76,310.14 165.88,309.37 167.04,309.27" fill="#111"/>
<polygon points="171.30,308.20 171.76,309.27 172.92,309.37 172.04,310.14 172.30,311.28 171.30,310.68 170.30,311.28 170.56,310.14 169.68,309.37 170.84,309.27" fill="#111"/>
<polyline points="208.40,378.10 208.40,374.80 221.00,374.80 221.00,378.10" fill="none" stroke="#111" stroke-width="1.1" stroke-linejoin="round"/>
<polygon points="210.90,368.60 211.36,369.67 212.52,369.77 211.64,370.54 211.90,371.68 210.90,371.08 209.90,371.68 210.16,370.54 209.28,369.77 210.44,369.67" fill="#111"/>
<polygon points="214.70,368.60 215.16,369.67 216.32,369.77 215.44,370.54 215.70,371.68 214.70,371.08 213.70,371.68 213.96,370.54 213.08,369.77 214.24,369.67" fill="#111"/>
<polygon points="218.50,368.60 218.96,369.67 220.12,369.77 219.24,370.54 219.50,371.68 218.50,371.08 217.50,371.68 217.76,370.54 216.88,369.77 218.04,369.67" fill="#111"/>
<rect x="92.10" y="297.25" width="4.20" height="4.20" fill="#2f4a7b"/>
<text x="100.00" y="302.25" font-size="8.6" text-anchor="start" font-weight="normal" fill="#1a1a1a" textLength="9.50" lengthAdjust="spacingAndGlyphs">EV</text>
<rect x="117.10" y="297.25" width="4.20" height="4.20" fill="#e8bb28"/>
<text x="125.00" y="302.25" font-size="8.6" text-anchor="start" font-weight="normal" fill="#1a1a1a" textLength="37.00" lengthAdjust="spacingAndGlyphs">MELK WT</text>
<rect x="169.10" y="297.25" width="4.20" height="4.20" fill="#6aa546"/>
<text x="177.00" y="302.25" font-size="8.6" text-anchor="start" font-weight="normal" fill="#1a1a1a" textLength="49.20" lengthAdjust="spacingAndGlyphs">MELK T167A</text>
<text transform="translate(37.60,354.90) rotate(-90)" x="0" y="0" font-size="10.6" text-anchor="middle" fill="#1a1a1a" textLength="76.8" lengthAdjust="spacingAndGlyphs">Relative viability (%)</text>
<text x="269.70" y="290.40" font-size="13.0" text-anchor="start" font-weight="bold" fill="#000">F</text>
<text x="392.50" y="289.00" font-size="11.0" text-anchor="start" font-weight="normal" fill="#1a1a1a" textLength="37.50" lengthAdjust="spacingAndGlyphs">KHYG-1</text>
<line x1="319.00" y1="306.25" x2="319.00" y2="401.90" stroke="#111" stroke-width="1.5"/>
<line x1="315.50" y1="401.30" x2="504.25" y2="401.30" stroke="#111" stroke-width="1.35"/>
<text x="312.40" y="404.40" font-size="9.6" text-anchor="end" font-weight="normal" fill="#1a1a1a" textLength="4.89" lengthAdjust="spacingAndGlyphs">0</text>
<line x1="315.40" y1="370.62" x2="319.00" y2="370.62" stroke="#222" stroke-width="1.0"/>
<text x="312.40" y="373.72" font-size="9.6" text-anchor="end" font-weight="normal" fill="#1a1a1a" textLength="9.79" lengthAdjust="spacingAndGlyphs">50</text>
<line x1="315.40" y1="339.93" x2="319.00" y2="339.93" stroke="#222" stroke-width="1.0"/>
<text x="312.40" y="343.03" font-size="9.6" text-anchor="end" font-weight="normal" fill="#1a1a1a" textLength="14.68" lengthAdjust="spacingAndGlyphs">100</text>
<line x1="315.40" y1="309.25" x2="319.00" y2="309.25" stroke="#222" stroke-width="1.0"/>
<text x="312.40" y="312.35" font-size="9.6" text-anchor="end" font-weight="normal" fill="#1a1a1a" textLength="14.68" lengthAdjust="spacingAndGlyphs">150</text>
<rect x="331.22" y="340.30" width="10.30" height="60.40" fill="#2f4a7b" stroke="#1f3c76" stroke-width="0.6"/>
<line x1="336.38" y1="336.75" x2="336.38" y2="343.25" stroke="#111" stroke-width="0.9"/>
<line x1="334.18" y1="336.75" x2="338.57" y2="336.75" stroke="#111" stroke-width="1.15"/>
<line x1="334.18" y1="343.25" x2="338.57" y2="343.25" stroke="#111" stroke-width="1.15"/>
<rect x="344.72" y="340.30" width="10.30" height="60.40" fill="#e8bb28" stroke="#e6b40c" stroke-width="0.6"/>
<line x1="349.88" y1="336.75" x2="349.88" y2="343.25" stroke="#111" stroke-width="0.9"/>
<line x1="347.68" y1="336.75" x2="352.07" y2="336.75" stroke="#111" stroke-width="1.15"/>
<line x1="347.68" y1="343.25" x2="352.07" y2="343.25" stroke="#111" stroke-width="1.15"/>
<rect x="358.22" y="340.30" width="10.30" height="60.40" fill="#6aa546" stroke="#5ba232" stroke-width="0.6"/>
<line x1="363.38" y1="328.34" x2="363.38" y2="351.66" stroke="#111" stroke-width="0.9"/>
<line x1="361.18" y1="328.34" x2="365.57" y2="328.34" stroke="#111" stroke-width="1.15"/>
<line x1="361.18" y1="351.66" x2="365.57" y2="351.66" stroke="#111" stroke-width="1.15"/>
<text x="349.88" y="412.30" font-size="9.3" text-anchor="middle" font-weight="normal" fill="#1a1a1a" textLength="22.10" lengthAdjust="spacingAndGlyphs">CON</text>
<rect x="392.97" y="349.80" width="10.30" height="50.90" fill="#2f4a7b" stroke="#1f3c76" stroke-width="0.6"/>
<line x1="398.12" y1="343.98" x2="398.12" y2="355.02" stroke="#111" stroke-width="0.9"/>
<line x1="395.93" y1="343.98" x2="400.32" y2="343.98" stroke="#111" stroke-width="1.15"/>
<line x1="395.93" y1="355.02" x2="400.32" y2="355.02" stroke="#111" stroke-width="1.15"/>
<rect x="406.47" y="334.05" width="10.30" height="66.65" fill="#e8bb28" stroke="#e6b40c" stroke-width="0.6"/>
<line x1="411.62" y1="333.32" x2="411.62" y2="334.18" stroke="#111" stroke-width="0.9"/>
<line x1="409.43" y1="333.32" x2="413.82" y2="333.32" stroke="#111" stroke-width="1.15"/>
<line x1="409.43" y1="334.18" x2="413.82" y2="334.18" stroke="#111" stroke-width="1.15"/>
<rect x="419.97" y="345.30" width="10.30" height="55.40" fill="#6aa546" stroke="#5ba232" stroke-width="0.6"/>
<line x1="425.12" y1="343.77" x2="425.12" y2="346.23" stroke="#111" stroke-width="0.9"/>
<line x1="422.93" y1="343.77" x2="427.32" y2="343.77" stroke="#111" stroke-width="1.15"/>
<line x1="422.93" y1="346.23" x2="427.32" y2="346.23" stroke="#111" stroke-width="1.15"/>
<text x="411.62" y="412.30" font-size="9.3" text-anchor="middle" font-weight="normal" fill="#1a1a1a" textLength="21.30" lengthAdjust="spacingAndGlyphs">2 nM</text>
<rect x="454.72" y="396.05" width="10.30" height="4.65" fill="#2f4a7b" stroke="#1f3c76" stroke-width="0.6"/>
<line x1="459.88" y1="395.32" x2="459.88" y2="396.18" stroke="#111" stroke-width="0.9"/>
<line x1="457.68" y1="395.32" x2="462.07" y2="395.32" stroke="#111" stroke-width="1.15"/>
<line x1="457.68" y1="396.18" x2="462.07" y2="396.18" stroke="#111" stroke-width="1.15"/>
<rect x="468.22" y="391.55" width="10.30" height="9.15" fill="#e8bb28" stroke="#e6b40c" stroke-width="0.6"/>
<line x1="473.38" y1="388.49" x2="473.38" y2="394.01" stroke="#111" stroke-width="0.9"/>
<line x1="471.18" y1="388.49" x2="475.57" y2="388.49" stroke="#111" stroke-width="1.15"/>
<line x1="471.18" y1="394.01" x2="475.57" y2="394.01" stroke="#111" stroke-width="1.15"/>
<rect x="481.72" y="393.55" width="10.30" height="7.15" fill="#6aa546" stroke="#5ba232" stroke-width="0.6"/>
<line x1="486.88" y1="392.94" x2="486.88" y2="393.56" stroke="#111" stroke-width="0.9"/>
<line x1="484.68" y1="392.94" x2="489.07" y2="392.94" stroke="#111" stroke-width="1.15"/>
<line x1="484.68" y1="393.56" x2="489.07" y2="393.56" stroke="#111" stroke-width="1.15"/>
<text x="473.38" y="412.30" font-size="9.3" text-anchor="middle" font-weight="normal" fill="#1a1a1a" textLength="25.90" lengthAdjust="spacingAndGlyphs">10 nM</text>
<polyline points="398.40,330.40 398.40,327.40 410.70,327.40 410.70,330.40" fill="none" stroke="#111" stroke-width="1.1" stroke-linejoin="round"/>
<polygon points="402.65,321.20 403.11,322.27 404.27,322.37 403.39,323.14 403.65,324.28 402.65,323.68 401.65,324.28 401.91,323.14 401.03,322.37 402.19,322.27" fill="#111"/>
<polygon points="406.45,321.20 406.91,322.27 408.07,322.37 407.19,323.14 407.45,324.28 406.45,323.68 405.45,324.28 405.71,323.14 404.83,322.37 405.99,322.27" fill="#111"/>
<polyline points="413.90,330.40 413.90,327.40 426.60,327.40 426.60,330.40" fill="none" stroke="#111" stroke-width="1.1" stroke-linejoin="round"/>
<polygon points="416.45,321.20 416.91,322.27 418.07,322.37 417.19,323.14 417.45,324.28 416.45,323.68 415.45,324.28 415.71,323.14 414.83,322.37 415.99,322.27" fill="#111"/>
<polygon points="420.25,321.20 420.71,322.27 421.87,322.37 420.99,323.14 421.25,324.28 420.25,323.68 419.25,324.28 419.51,323.14 418.63,322.37 419.79,322.27" fill="#111"/>
<polygon points="424.05,321.20 424.51,322.27 425.67,322.37 424.79,323.14 425.05,324.28 424.05,323.68 423.05,324.28 423.31,323.14 422.43,322.37 423.59,322.27" fill="#111"/>
<polyline points="460.20,383.50 460.20,380.40 472.70,380.40 472.70,383.50" fill="none" stroke="#111" stroke-width="1.1" stroke-linejoin="round"/>
<polygon points="466.45,374.20 466.91,375.27 468.07,375.37 467.19,376.14 467.45,377.28 466.45,376.68 465.45,377.28 465.71,376.14 464.83,375.37 465.99,375.27" fill="#111"/>
<rect x="344.60" y="297.25" width="4.20" height="4.20" fill="#2f4a7b"/>
<text x="352.50" y="302.25" font-size="8.6" text-anchor="start" font-weight="normal" fill="#1a1a1a" textLength="9.50" lengthAdjust="spacingAndGlyphs">EV</text>
<rect x="369.60" y="297.25" width="4.20" height="4.20" fill="#e8bb28"/>
<text x="377.50" y="302.25" font-size="8.6" text-anchor="start" font-weight="normal" fill="#1a1a1a" textLength="36.30" lengthAdjust="spacingAndGlyphs">MELK WT</text>
<rect x="421.60" y="297.25" width="4.20" height="4.20" fill="#6aa546"/>
<text x="429.50" y="302.25" font-size="8.6" text-anchor="start" font-weight="normal" fill="#1a1a1a" textLength="49.20" lengthAdjust="spacingAndGlyphs">MELK T167A</text>
<text transform="translate(290.80,355.00) rotate(-90)" x="0" y="0" font-size="10.6" text-anchor="middle" fill="#1a1a1a" textLength="76.8" lengthAdjust="spacingAndGlyphs">Relative viability (%)</text>
<text x="14.80" y="442.30" font-size="13.0" text-anchor="start" font-weight="bold" fill="#000">G</text>
<text x="144.40" y="441.00" font-size="11.0" text-anchor="start" font-weight="normal" fill="#1a1a1a" textLength="28.00" lengthAdjust="spacingAndGlyphs">NKYS</text>
<line x1="65.90" y1="454.40" x2="65.90" y2="542.10" stroke="#111" stroke-width="1.5"/>
<line x1="62.40" y1="541.50" x2="251.10" y2="541.50" stroke="#111" stroke-width="1.35"/>
<text x="59.30" y="544.60" font-size="9.6" text-anchor="end" font-weight="normal" fill="#1a1a1a" textLength="4.89" lengthAdjust="spacingAndGlyphs">0</text>
<line x1="62.30" y1="527.52" x2="65.90" y2="527.52" stroke="#222" stroke-width="1.0"/>
<text x="59.30" y="530.62" font-size="9.6" text-anchor="end" font-weight="normal" fill="#1a1a1a" textLength="9.79" lengthAdjust="spacingAndGlyphs">20</text>
<line x1="62.30" y1="513.53" x2="65.90" y2="513.53" stroke="#222" stroke-width="1.0"/>
<text x="59.30" y="516.63" font-size="9.6" text-anchor="end" font-weight="normal" fill="#1a1a1a" textLength="9.79" lengthAdjust="spacingAndGlyphs">40</text>
<line x1="62.30" y1="499.55" x2="65.90" y2="499.55" stroke="#222" stroke-width="1.0"/>
<text x="59.30" y="502.65" font-size="9.6" text-anchor="end" font-weight="normal" fill="#1a1a1a" textLength="9.79" lengthAdjust="spacingAndGlyphs">60</text>
<line x1="62.30" y1="485.57" x2="65.90" y2="485.57" stroke="#222" stroke-width="1.0"/>
<text x="59.30" y="488.67" font-size="9.6" text-anchor="end" font-weight="normal" fill="#1a1a1a" textLength="9.79" lengthAdjust="spacingAndGlyphs">80</text>
<line x1="62.30" y1="471.58" x2="65.90" y2="471.58" stroke="#222" stroke-width="1.0"/>
<text x="59.30" y="474.68" font-size="9.6" text-anchor="end" font-weight="normal" fill="#1a1a1a" textLength="14.68" lengthAdjust="spacingAndGlyphs">100</text>
<line x1="62.30" y1="457.60" x2="65.90" y2="457.60" stroke="#222" stroke-width="1.0"/>
<text x="59.30" y="460.70" font-size="9.6" text-anchor="end" font-weight="normal" fill="#1a1a1a" textLength="14.68" lengthAdjust="spacingAndGlyphs">120</text>
<rect x="77.77" y="472.20" width="10.40" height="68.70" fill="#2f4a7b" stroke="#1f3c76" stroke-width="0.6"/>
<line x1="82.97" y1="468.75" x2="82.97" y2="475.04" stroke="#111" stroke-width="0.9"/>
<line x1="80.77" y1="468.75" x2="85.17" y2="468.75" stroke="#111" stroke-width="1.15"/>
<line x1="80.77" y1="475.04" x2="85.17" y2="475.04" stroke="#111" stroke-width="1.15"/>
<rect x="91.57" y="472.20" width="10.40" height="68.70" fill="#e8bb28" stroke="#e6b40c" stroke-width="0.6"/>
<line x1="96.77" y1="469.45" x2="96.77" y2="474.35" stroke="#111" stroke-width="0.9"/>
<line x1="94.57" y1="469.45" x2="98.97" y2="469.45" stroke="#111" stroke-width="1.15"/>
<line x1="94.57" y1="474.35" x2="98.97" y2="474.35" stroke="#111" stroke-width="1.15"/>
<rect x="105.37" y="472.20" width="10.40" height="68.70" fill="#6aa546" stroke="#5ba232" stroke-width="0.6"/>
<line x1="110.57" y1="467.28" x2="110.57" y2="476.51" stroke="#111" stroke-width="0.9"/>
<line x1="108.37" y1="467.28" x2="112.77" y2="467.28" stroke="#111" stroke-width="1.15"/>
<line x1="108.37" y1="476.51" x2="112.77" y2="476.51" stroke="#111" stroke-width="1.15"/>
<text x="96.77" y="552.50" font-size="9.3" text-anchor="middle" font-weight="normal" fill="#1a1a1a" textLength="22.10" lengthAdjust="spacingAndGlyphs">CON</text>
<rect x="139.50" y="506.80" width="10.40" height="34.10" fill="#2f4a7b" stroke="#1f3c76" stroke-width="0.6"/>
<line x1="144.70" y1="501.33" x2="144.70" y2="511.67" stroke="#111" stroke-width="0.9"/>
<line x1="142.50" y1="501.33" x2="146.90" y2="501.33" stroke="#111" stroke-width="1.15"/>
<line x1="142.50" y1="511.67" x2="146.90" y2="511.67" stroke="#111" stroke-width="1.15"/>
<rect x="153.30" y="510.20" width="10.40" height="30.70" fill="#e8bb28" stroke="#e6b40c" stroke-width="0.6"/>
<line x1="158.50" y1="507.24" x2="158.50" y2="512.55" stroke="#111" stroke-width="0.9"/>
<line x1="156.30" y1="507.24" x2="160.70" y2="507.24" stroke="#111" stroke-width="1.15"/>
<line x1="156.30" y1="512.55" x2="160.70" y2="512.55" stroke="#111" stroke-width="1.15"/>
<rect x="167.10" y="518.30" width="10.40" height="22.60" fill="#6aa546" stroke="#5ba232" stroke-width="0.6"/>
<line x1="172.30" y1="516.25" x2="172.30" y2="519.75" stroke="#111" stroke-width="0.9"/>
<line x1="170.10" y1="516.25" x2="174.50" y2="516.25" stroke="#111" stroke-width="1.15"/>
<line x1="170.10" y1="519.75" x2="174.50" y2="519.75" stroke="#111" stroke-width="1.15"/>
<text x="158.50" y="552.50" font-size="9.3" text-anchor="middle" font-weight="normal" fill="#1a1a1a" textLength="25.90" lengthAdjust="spacingAndGlyphs">10 nM</text>
<rect x="201.23" y="517.60" width="10.40" height="23.30" fill="#2f4a7b" stroke="#1f3c76" stroke-width="0.6"/>
<line x1="206.43" y1="514.71" x2="206.43" y2="519.89" stroke="#111" stroke-width="0.9"/>
<line x1="204.23" y1="514.71" x2="208.63" y2="514.71" stroke="#111" stroke-width="1.15"/>
<line x1="204.23" y1="519.89" x2="208.63" y2="519.89" stroke="#111" stroke-width="1.15"/>
<rect x="215.03" y="524.10" width="10.40" height="16.80" fill="#e8bb28" stroke="#e6b40c" stroke-width="0.6"/>
<line x1="220.23" y1="521.49" x2="220.23" y2="526.10" stroke="#111" stroke-width="0.9"/>
<line x1="218.03" y1="521.49" x2="222.43" y2="521.49" stroke="#111" stroke-width="1.15"/>
<line x1="218.03" y1="526.10" x2="222.43" y2="526.10" stroke="#111" stroke-width="1.15"/>
<rect x="228.83" y="526.80" width="10.40" height="14.10" fill="#6aa546" stroke="#5ba232" stroke-width="0.6"/>
<line x1="234.03" y1="523.50" x2="234.03" y2="529.51" stroke="#111" stroke-width="0.9"/>
<line x1="231.83" y1="523.50" x2="236.23" y2="523.50" stroke="#111" stroke-width="1.15"/>
<line x1="231.83" y1="529.51" x2="236.23" y2="529.51" stroke="#111" stroke-width="1.15"/>
<text x="220.23" y="552.50" font-size="9.3" text-anchor="middle" font-weight="normal" fill="#1a1a1a" textLength="25.90" lengthAdjust="spacingAndGlyphs">20 nM</text>
<polyline points="144.00,497.30 144.00,491.50 173.80,491.50 173.80,497.30" fill="none" stroke="#111" stroke-width="1.1" stroke-linejoin="round"/>
<polygon points="158.90,485.30 159.36,486.37 160.52,486.47 159.64,487.24 159.90,488.38 158.90,487.78 157.90,488.38 158.16,487.24 157.28,486.47 158.44,486.37" fill="#111"/>
<polyline points="206.20,500.30 206.20,495.40 234.50,495.40 234.50,500.30" fill="none" stroke="#111" stroke-width="1.1" stroke-linejoin="round"/>
<polygon points="220.35,489.20 220.81,490.27 221.97,490.37 221.09,491.14 221.35,492.28 220.35,491.68 219.35,492.28 219.61,491.14 218.73,490.37 219.89,490.27" fill="#111"/>
<polyline points="206.20,510.80 206.20,506.10 222.10,506.10 222.10,510.80" fill="none" stroke="#111" stroke-width="1.1" stroke-linejoin="round"/>
<polygon points="214.15,499.90 214.61,500.97 215.77,501.07 214.89,501.84 215.15,502.98 214.15,502.38 213.15,502.98 213.41,501.84 212.53,501.07 213.69,500.97" fill="#111"/>
<rect x="88.35" y="449.50" width="4.20" height="4.20" fill="#2f4a7b"/>
<text x="95.00" y="454.50" font-size="8.6" text-anchor="start" font-weight="normal" fill="#1a1a1a" textLength="19.50" lengthAdjust="spacingAndGlyphs">si-scr</text>
<rect x="121.70" y="449.50" width="4.20" height="4.20" fill="#e8bb28"/>
<text x="129.40" y="454.50" font-size="8.6" text-anchor="start" font-weight="normal" fill="#1a1a1a" textLength="42.00" lengthAdjust="spacingAndGlyphs">si-MELK #1</text>
<rect x="179.10" y="449.50" width="4.20" height="4.20" fill="#6aa546"/>
<text x="186.70" y="454.50" font-size="8.6" text-anchor="start" font-weight="normal" fill="#1a1a1a" textLength="41.80" lengthAdjust="spacingAndGlyphs">si-MELK #2</text>
<text transform="translate(37.60,497.70) rotate(-90)" x="0" y="0" font-size="10.6" text-anchor="middle" fill="#1a1a1a" textLength="76.8" lengthAdjust="spacingAndGlyphs">Relative viability (%)</text>
<text x="269.50" y="442.40" font-size="13.0" text-anchor="start" font-weight="bold" fill="#000">H</text>
<text x="396.80" y="441.00" font-size="11.0" text-anchor="start" font-weight="normal" fill="#1a1a1a" textLength="30.30" lengthAdjust="spacingAndGlyphs">NK-S1</text>
<line x1="319.00" y1="455.10" x2="319.00" y2="542.10" stroke="#111" stroke-width="1.5"/>
<line x1="315.50" y1="541.50" x2="504.50" y2="541.50" stroke="#111" stroke-width="1.35"/>
<text x="312.40" y="544.60" font-size="9.6" text-anchor="end" font-weight="normal" fill="#1a1a1a" textLength="4.89" lengthAdjust="spacingAndGlyphs">0</text>
<line x1="315.40" y1="527.65" x2="319.00" y2="527.65" stroke="#222" stroke-width="1.0"/>
<text x="312.40" y="530.75" font-size="9.6" text-anchor="end" font-weight="normal" fill="#1a1a1a" textLength="9.79" lengthAdjust="spacingAndGlyphs">20</text>
<line x1="315.40" y1="513.80" x2="319.00" y2="513.80" stroke="#222" stroke-width="1.0"/>
<text x="312.40" y="516.90" font-size="9.6" text-anchor="end" font-weight="normal" fill="#1a1a1a" textLength="9.79" lengthAdjust="spacingAndGlyphs">40</text>
<line x1="315.40" y1="499.95" x2="319.00" y2="499.95" stroke="#222" stroke-width="1.0"/>
<text x="312.40" y="503.05" font-size="9.6" text-anchor="end" font-weight="normal" fill="#1a1a1a" textLength="9.79" lengthAdjust="spacingAndGlyphs">60</text>
<line x1="315.40" y1="486.10" x2="319.00" y2="486.10" stroke="#222" stroke-width="1.0"/>
<text x="312.40" y="489.20" font-size="9.6" text-anchor="end" font-weight="normal" fill="#1a1a1a" textLength="9.79" lengthAdjust="spacingAndGlyphs">80</text>
<line x1="315.40" y1="472.25" x2="319.00" y2="472.25" stroke="#222" stroke-width="1.0"/>
<text x="312.40" y="475.35" font-size="9.6" text-anchor="end" font-weight="normal" fill="#1a1a1a" textLength="14.68" lengthAdjust="spacingAndGlyphs">100</text>
<line x1="315.40" y1="458.40" x2="319.00" y2="458.40" stroke="#222" stroke-width="1.0"/>
<text x="312.40" y="461.50" font-size="9.6" text-anchor="end" font-weight="normal" fill="#1a1a1a" textLength="14.68" lengthAdjust="spacingAndGlyphs">120</text>
<rect x="330.97" y="472.60" width="10.50" height="68.30" fill="#2f4a7b" stroke="#1f3c76" stroke-width="0.6"/>
<line x1="336.22" y1="469.32" x2="336.22" y2="475.28" stroke="#111" stroke-width="0.9"/>
<line x1="334.02" y1="469.32" x2="338.42" y2="469.32" stroke="#111" stroke-width="1.15"/>
<line x1="334.02" y1="475.28" x2="338.42" y2="475.28" stroke="#111" stroke-width="1.15"/>
<rect x="344.67" y="472.60" width="10.50" height="68.30" fill="#e8bb28" stroke="#e6b40c" stroke-width="0.6"/>
<line x1="349.92" y1="471.61" x2="349.92" y2="472.99" stroke="#111" stroke-width="0.9"/>
<line x1="347.72" y1="471.61" x2="352.12" y2="471.61" stroke="#111" stroke-width="1.15"/>
<line x1="347.72" y1="472.99" x2="352.12" y2="472.99" stroke="#111" stroke-width="1.15"/>
<rect x="358.37" y="472.60" width="10.50" height="68.30" fill="#6aa546" stroke="#5ba232" stroke-width="0.6"/>
<line x1="363.62" y1="466.76" x2="363.62" y2="477.84" stroke="#111" stroke-width="0.9"/>
<line x1="361.42" y1="466.76" x2="365.82" y2="466.76" stroke="#111" stroke-width="1.15"/>
<line x1="361.42" y1="477.84" x2="365.82" y2="477.84" stroke="#111" stroke-width="1.15"/>
<text x="349.92" y="552.50" font-size="9.3" text-anchor="middle" font-weight="normal" fill="#1a1a1a" textLength="22.10" lengthAdjust="spacingAndGlyphs">CON</text>
<rect x="392.80" y="487.05" width="10.50" height="53.85" fill="#2f4a7b" stroke="#1f3c76" stroke-width="0.6"/>
<line x1="398.05" y1="483.98" x2="398.05" y2="489.52" stroke="#111" stroke-width="0.9"/>
<line x1="395.85" y1="483.98" x2="400.25" y2="483.98" stroke="#111" stroke-width="1.15"/>
<line x1="395.85" y1="489.52" x2="400.25" y2="489.52" stroke="#111" stroke-width="1.15"/>
<rect x="406.50" y="492.30" width="10.50" height="48.60" fill="#e8bb28" stroke="#e6b40c" stroke-width="0.6"/>
<line x1="411.75" y1="491.65" x2="411.75" y2="492.35" stroke="#111" stroke-width="0.9"/>
<line x1="409.55" y1="491.65" x2="413.95" y2="491.65" stroke="#111" stroke-width="1.15"/>
<line x1="409.55" y1="492.35" x2="413.95" y2="492.35" stroke="#111" stroke-width="1.15"/>
<rect x="420.20" y="493.30" width="10.50" height="47.60" fill="#6aa546" stroke="#5ba232" stroke-width="0.6"/>
<line x1="425.45" y1="490.37" x2="425.45" y2="495.63" stroke="#111" stroke-width="0.9"/>
<line x1="423.25" y1="490.37" x2="427.65" y2="490.37" stroke="#111" stroke-width="1.15"/>
<line x1="423.25" y1="495.63" x2="427.65" y2="495.63" stroke="#111" stroke-width="1.15"/>
<text x="411.75" y="552.50" font-size="9.3" text-anchor="middle" font-weight="normal" fill="#1a1a1a" textLength="25.90" lengthAdjust="spacingAndGlyphs">20 nM</text>
<rect x="454.63" y="530.80" width="10.50" height="10.10" fill="#2f4a7b" stroke="#1f3c76" stroke-width="0.6"/>
<line x1="459.88" y1="528.91" x2="459.88" y2="532.10" stroke="#111" stroke-width="0.9"/>
<line x1="457.68" y1="528.91" x2="462.08" y2="528.91" stroke="#111" stroke-width="1.15"/>
<line x1="457.68" y1="532.10" x2="462.08" y2="532.10" stroke="#111" stroke-width="1.15"/>
<rect x="468.33" y="535.30" width="10.50" height="5.60" fill="#e8bb28" stroke="#e6b40c" stroke-width="0.6"/>
<line x1="473.58" y1="534.65" x2="473.58" y2="535.34" stroke="#111" stroke-width="0.9"/>
<line x1="471.38" y1="534.65" x2="475.78" y2="534.65" stroke="#111" stroke-width="1.15"/>
<line x1="471.38" y1="535.34" x2="475.78" y2="535.34" stroke="#111" stroke-width="1.15"/>
<rect x="482.03" y="532.80" width="10.50" height="8.10" fill="#6aa546" stroke="#5ba232" stroke-width="0.6"/>
<line x1="487.28" y1="531.80" x2="487.28" y2="533.19" stroke="#111" stroke-width="0.9"/>
<line x1="485.08" y1="531.80" x2="489.48" y2="531.80" stroke="#111" stroke-width="1.15"/>
<line x1="485.08" y1="533.19" x2="489.48" y2="533.19" stroke="#111" stroke-width="1.15"/>
<text x="473.58" y="552.50" font-size="9.3" text-anchor="middle" font-weight="normal" fill="#1a1a1a" textLength="25.90" lengthAdjust="spacingAndGlyphs">50 nM</text>
<polyline points="397.30,472.10 397.30,466.50 425.60,466.50 425.60,472.10" fill="none" stroke="#111" stroke-width="1.1" stroke-linejoin="round"/>
<polygon points="409.55,460.30 410.01,461.37 411.17,461.47 410.29,462.24 410.55,463.38 409.55,462.78 408.55,463.38 408.81,462.24 407.93,461.47 409.09,461.37" fill="#111"/>
<polygon points="413.35,460.30 413.81,461.37 414.97,461.47 414.09,462.24 414.35,463.38 413.35,462.78 412.35,463.38 412.61,462.24 411.73,461.47 412.89,461.37" fill="#111"/>
<polyline points="397.60,481.50 397.60,476.40 414.30,476.40 414.30,481.50" fill="none" stroke="#111" stroke-width="1.1" stroke-linejoin="round"/>
<polygon points="404.05,470.20 404.51,471.27 405.67,471.37 404.79,472.14 405.05,473.28 404.05,472.68 403.05,473.28 403.31,472.14 402.43,471.37 403.59,471.27" fill="#111"/>
<polygon points="407.85,470.20 408.31,471.27 409.47,471.37 408.59,472.14 408.85,473.28 407.85,472.68 406.85,473.28 407.11,472.14 406.23,471.37 407.39,471.27" fill="#111"/>
<polyline points="458.50,517.30 458.50,511.50 487.00,511.50 487.00,517.30" fill="none" stroke="#111" stroke-width="1.1" stroke-linejoin="round"/>
<polygon points="470.85,505.30 471.31,506.37 472.47,506.47 471.59,507.24 471.85,508.38 470.85,507.78 469.85,508.38 470.11,507.24 469.23,506.47 470.39,506.37" fill="#111"/>
<polygon points="474.65,505.30 475.11,506.37 476.27,506.47 475.39,507.24 475.65,508.38 474.65,507.78 473.65,508.38 473.91,507.24 473.03,506.47 474.19,506.37" fill="#111"/>
<polyline points="459.20,526.20 459.20,521.70 475.80,521.70 475.80,526.20" fill="none" stroke="#111" stroke-width="1.1" stroke-linejoin="round"/>
<polygon points="463.70,515.50 464.16,516.57 465.32,516.67 464.44,517.44 464.70,518.58 463.70,517.98 462.70,518.58 462.96,517.44 462.08,516.67 463.24,516.57" fill="#111"/>
<polygon points="467.50,515.50 467.96,516.57 469.12,516.67 468.24,517.44 468.50,518.58 467.50,517.98 466.50,518.58 466.76,517.44 465.88,516.67 467.04,516.57" fill="#111"/>
<polygon points="471.30,515.50 471.76,516.57 472.92,516.67 472.04,517.44 472.30,518.58 471.30,517.98 470.30,518.58 470.56,517.44 469.68,516.67 470.84,516.57" fill="#111"/>
<rect x="341.60" y="450.00" width="4.20" height="4.20" fill="#2f4a7b"/>
<text x="348.75" y="455.00" font-size="8.6" text-anchor="start" font-weight="normal" fill="#1a1a1a" textLength="19.30" lengthAdjust="spacingAndGlyphs">si-scr</text>
<rect x="375.00" y="450.00" width="4.20" height="4.20" fill="#e8bb28"/>
<text x="382.90" y="455.00" font-size="8.6" text-anchor="start" font-weight="normal" fill="#1a1a1a" textLength="42.30" lengthAdjust="spacingAndGlyphs">si-MELK #1</text>
<rect x="432.30" y="450.00" width="4.20" height="4.20" fill="#6aa546"/>
<text x="440.50" y="455.00" font-size="8.6" text-anchor="start" font-weight="normal" fill="#1a1a1a" textLength="41.20" lengthAdjust="spacingAndGlyphs">si-MELK #2</text>
<text transform="translate(290.80,497.70) rotate(-90)" x="0" y="0" font-size="10.6" text-anchor="middle" fill="#1a1a1a" textLength="76.8" lengthAdjust="spacingAndGlyphs">Relative viability (%)</text>
<text x="15.10" y="582.40" font-size="13.0" text-anchor="start" font-weight="bold" fill="#000">I</text>
<text x="143.20" y="581.30" font-size="11.0" text-anchor="start" font-weight="normal" fill="#1a1a1a" textLength="27.30" lengthAdjust="spacingAndGlyphs">NKYS</text>
<line x1="65.90" y1="590.60" x2="65.90" y2="686.60" stroke="#111" stroke-width="1.5"/>
<line x1="62.40" y1="686.00" x2="247.70" y2="686.00" stroke="#111" stroke-width="1.35"/>
<text x="59.30" y="689.10" font-size="9.6" text-anchor="end" font-weight="normal" fill="#1a1a1a" textLength="4.89" lengthAdjust="spacingAndGlyphs">0</text>
<line x1="62.30" y1="670.65" x2="65.90" y2="670.65" stroke="#222" stroke-width="1.0"/>
<text x="59.30" y="673.75" font-size="9.6" text-anchor="end" font-weight="normal" fill="#1a1a1a" textLength="9.79" lengthAdjust="spacingAndGlyphs">20</text>
<line x1="62.30" y1="655.30" x2="65.90" y2="655.30" stroke="#222" stroke-width="1.0"/>
<text x="59.30" y="658.40" font-size="9.6" text-anchor="end" font-weight="normal" fill="#1a1a1a" textLength="9.79" lengthAdjust="spacingAndGlyphs">40</text>
<line x1="62.30" y1="639.95" x2="65.90" y2="639.95" stroke="#222" stroke-width="1.0"/>
<text x="59.30" y="643.05" font-size="9.6" text-anchor="end" font-weight="normal" fill="#1a1a1a" textLength="9.79" lengthAdjust="spacingAndGlyphs">60</text>
<line x1="62.30" y1="624.60" x2="65.90" y2="624.60" stroke="#222" stroke-width="1.0"/>
<text x="59.30" y="627.70" font-size="9.6" text-anchor="end" font-weight="normal" fill="#1a1a1a" textLength="9.79" lengthAdjust="spacingAndGlyphs">80</text>
<line x1="62.30" y1="609.25" x2="65.90" y2="609.25" stroke="#222" stroke-width="1.0"/>
<text x="59.30" y="612.35" font-size="9.6" text-anchor="end" font-weight="normal" fill="#1a1a1a" textLength="14.68" lengthAdjust="spacingAndGlyphs">100</text>
<line x1="62.30" y1="593.90" x2="65.90" y2="593.90" stroke="#222" stroke-width="1.0"/>
<text x="59.30" y="597.00" font-size="9.6" text-anchor="end" font-weight="normal" fill="#1a1a1a" textLength="14.68" lengthAdjust="spacingAndGlyphs">120</text>
<rect x="83.25" y="609.70" width="15.60" height="75.70" fill="#2f4a7b" stroke="#1f3c76" stroke-width="0.6"/>
<line x1="91.05" y1="602.88" x2="91.05" y2="615.93" stroke="#111" stroke-width="0.9"/>
<line x1="88.85" y1="602.88" x2="93.25" y2="602.88" stroke="#111" stroke-width="1.15"/>
<line x1="88.85" y1="615.93" x2="93.25" y2="615.93" stroke="#111" stroke-width="1.15"/>
<rect x="103.55" y="609.70" width="15.60" height="75.70" fill="#e8bb28" stroke="#e6b40c" stroke-width="0.6"/>
<line x1="111.35" y1="603.80" x2="111.35" y2="615.01" stroke="#111" stroke-width="0.9"/>
<line x1="109.15" y1="603.80" x2="113.55" y2="603.80" stroke="#111" stroke-width="1.15"/>
<line x1="109.15" y1="615.01" x2="113.55" y2="615.01" stroke="#111" stroke-width="1.15"/>
<rect x="123.85" y="609.70" width="15.60" height="75.70" fill="#6aa546" stroke="#5ba232" stroke-width="0.6"/>
<line x1="131.65" y1="607.41" x2="131.65" y2="611.40" stroke="#111" stroke-width="0.9"/>
<line x1="129.45" y1="607.41" x2="133.85" y2="607.41" stroke="#111" stroke-width="1.15"/>
<line x1="129.45" y1="611.40" x2="133.85" y2="611.40" stroke="#111" stroke-width="1.15"/>
<text x="111.35" y="697.00" font-size="9.3" text-anchor="middle" font-weight="normal" fill="#1a1a1a" textLength="22.10" lengthAdjust="spacingAndGlyphs">CON</text>
<rect x="174.15" y="642.50" width="15.60" height="42.90" fill="#2f4a7b" stroke="#1f3c76" stroke-width="0.6"/>
<line x1="181.95" y1="637.75" x2="181.95" y2="646.65" stroke="#111" stroke-width="0.9"/>
<line x1="179.75" y1="637.75" x2="184.15" y2="637.75" stroke="#111" stroke-width="1.15"/>
<line x1="179.75" y1="646.65" x2="184.15" y2="646.65" stroke="#111" stroke-width="1.15"/>
<rect x="194.45" y="627.60" width="15.60" height="57.80" fill="#e8bb28" stroke="#e6b40c" stroke-width="0.6"/>
<line x1="202.25" y1="623.62" x2="202.25" y2="630.99" stroke="#111" stroke-width="0.9"/>
<line x1="200.05" y1="623.62" x2="204.45" y2="623.62" stroke="#111" stroke-width="1.15"/>
<line x1="200.05" y1="630.99" x2="204.45" y2="630.99" stroke="#111" stroke-width="1.15"/>
<rect x="214.75" y="643.50" width="15.60" height="41.90" fill="#6aa546" stroke="#5ba232" stroke-width="0.6"/>
<line x1="222.55" y1="641.43" x2="222.55" y2="644.96" stroke="#111" stroke-width="0.9"/>
<line x1="220.35" y1="641.43" x2="224.75" y2="641.43" stroke="#111" stroke-width="1.15"/>
<line x1="220.35" y1="644.96" x2="224.75" y2="644.96" stroke="#111" stroke-width="1.15"/>
<text x="202.25" y="697.00" font-size="9.3" text-anchor="middle" font-weight="normal" fill="#1a1a1a" textLength="16.50" lengthAdjust="spacingAndGlyphs">BTZ</text>
<polyline points="179.50,621.20 179.50,616.10 200.80,616.10 200.80,621.20" fill="none" stroke="#111" stroke-width="1.1" stroke-linejoin="round"/>
<polygon points="190.15,609.90 190.61,610.97 191.77,611.07 190.89,611.84 191.15,612.98 190.15,612.38 189.15,612.98 189.41,611.84 188.53,611.07 189.69,610.97" fill="#111"/>
<polyline points="202.90,621.20 202.90,616.10 224.80,616.10 224.80,621.20" fill="none" stroke="#111" stroke-width="1.1" stroke-linejoin="round"/>
<polygon points="211.95,609.90 212.41,610.97 213.57,611.07 212.69,611.84 212.95,612.98 211.95,612.38 210.95,612.98 211.21,611.84 210.33,611.07 211.49,610.97" fill="#111"/>
<polygon points="215.75,609.90 216.21,610.97 217.37,611.07 216.49,611.84 216.75,612.98 215.75,612.38 214.75,612.98 215.01,611.84 214.13,611.07 215.29,610.97" fill="#111"/>
<rect x="91.60" y="589.75" width="4.20" height="4.20" fill="#2f4a7b"/>
<text x="99.50" y="594.75" font-size="8.6" text-anchor="start" font-weight="normal" fill="#1a1a1a" textLength="9.75" lengthAdjust="spacingAndGlyphs">EV</text>
<rect x="116.35" y="589.75" width="4.20" height="4.20" fill="#e8bb28"/>
<text x="124.50" y="594.75" font-size="8.6" text-anchor="start" font-weight="normal" fill="#1a1a1a" textLength="35.50" lengthAdjust="spacingAndGlyphs">EZH2 WT</text>
<rect x="167.10" y="589.75" width="4.20" height="4.20" fill="#6aa546"/>
<text x="175.00" y="594.75" font-size="8.6" text-anchor="start" font-weight="normal" fill="#1a1a1a" textLength="47.50" lengthAdjust="spacingAndGlyphs">EZH2 S220A</text>
<text transform="translate(37.60,637.70) rotate(-90)" x="0" y="0" font-size="10.6" text-anchor="middle" fill="#1a1a1a" textLength="76.8" lengthAdjust="spacingAndGlyphs">Relative viability (%)</text>
<text x="269.80" y="582.40" font-size="13.0" text-anchor="start" font-weight="bold" fill="#000">J</text>
<text x="390.00" y="581.30" font-size="11.0" text-anchor="start" font-weight="normal" fill="#1a1a1a" textLength="37.50" lengthAdjust="spacingAndGlyphs">KHYG-1</text>
<line x1="319.00" y1="590.20" x2="319.00" y2="686.60" stroke="#111" stroke-width="1.5"/>
<line x1="315.50" y1="686.00" x2="498.80" y2="686.00" stroke="#111" stroke-width="1.35"/>
<text x="312.40" y="689.10" font-size="9.6" text-anchor="end" font-weight="normal" fill="#1a1a1a" textLength="4.89" lengthAdjust="spacingAndGlyphs">0</text>
<line x1="315.40" y1="670.55" x2="319.00" y2="670.55" stroke="#222" stroke-width="1.0"/>
<text x="312.40" y="673.65" font-size="9.6" text-anchor="end" font-weight="normal" fill="#1a1a1a" textLength="9.79" lengthAdjust="spacingAndGlyphs">20</text>
<line x1="315.40" y1="655.10" x2="319.00" y2="655.10" stroke="#222" stroke-width="1.0"/>
<text x="312.40" y="658.20" font-size="9.6" text-anchor="end" font-weight="normal" fill="#1a1a1a" textLength="9.79" lengthAdjust="spacingAndGlyphs">40</text>
<line x1="315.40" y1="639.65" x2="319.00" y2="639.65" stroke="#222" stroke-width="1.0"/>
<text x="312.40" y="642.75" font-size="9.6" text-anchor="end" font-weight="normal" fill="#1a1a1a" textLength="9.79" lengthAdjust="spacingAndGlyphs">60</text>
<line x1="315.40" y1="624.20" x2="319.00" y2="624.20" stroke="#222" stroke-width="1.0"/>
<text x="312.40" y="627.30" font-size="9.6" text-anchor="end" font-weight="normal" fill="#1a1a1a" textLength="9.79" lengthAdjust="spacingAndGlyphs">80</text>
<line x1="315.40" y1="608.75" x2="319.00" y2="608.75" stroke="#222" stroke-width="1.0"/>
<text x="312.40" y="611.85" font-size="9.6" text-anchor="end" font-weight="normal" fill="#1a1a1a" textLength="14.68" lengthAdjust="spacingAndGlyphs">100</text>
<line x1="315.40" y1="593.30" x2="319.00" y2="593.30" stroke="#222" stroke-width="1.0"/>
<text x="312.40" y="596.40" font-size="9.6" text-anchor="end" font-weight="normal" fill="#1a1a1a" textLength="14.68" lengthAdjust="spacingAndGlyphs">120</text>
<rect x="336.35" y="609.30" width="15.20" height="76.10" fill="#2f4a7b" stroke="#1f3c76" stroke-width="0.6"/>
<line x1="343.95" y1="607.37" x2="343.95" y2="610.62" stroke="#111" stroke-width="0.9"/>
<line x1="341.75" y1="607.37" x2="346.15" y2="607.37" stroke="#111" stroke-width="1.15"/>
<line x1="341.75" y1="610.62" x2="346.15" y2="610.62" stroke="#111" stroke-width="1.15"/>
<rect x="356.35" y="609.30" width="15.20" height="76.10" fill="#e8bb28" stroke="#e6b40c" stroke-width="0.6"/>
<line x1="363.95" y1="601.47" x2="363.95" y2="616.53" stroke="#111" stroke-width="0.9"/>
<line x1="361.75" y1="601.47" x2="366.15" y2="601.47" stroke="#111" stroke-width="1.15"/>
<line x1="361.75" y1="616.53" x2="366.15" y2="616.53" stroke="#111" stroke-width="1.15"/>
<rect x="376.35" y="609.30" width="15.20" height="76.10" fill="#6aa546" stroke="#5ba232" stroke-width="0.6"/>
<line x1="383.95" y1="604.98" x2="383.95" y2="613.01" stroke="#111" stroke-width="0.9"/>
<line x1="381.75" y1="604.98" x2="386.15" y2="604.98" stroke="#111" stroke-width="1.15"/>
<line x1="381.75" y1="613.01" x2="386.15" y2="613.01" stroke="#111" stroke-width="1.15"/>
<text x="363.95" y="697.00" font-size="9.3" text-anchor="middle" font-weight="normal" fill="#1a1a1a" textLength="22.10" lengthAdjust="spacingAndGlyphs">CON</text>
<rect x="426.25" y="652.20" width="15.20" height="33.20" fill="#2f4a7b" stroke="#1f3c76" stroke-width="0.6"/>
<line x1="433.85" y1="649.74" x2="433.85" y2="654.06" stroke="#111" stroke-width="0.9"/>
<line x1="431.65" y1="649.74" x2="436.05" y2="649.74" stroke="#111" stroke-width="1.15"/>
<line x1="431.65" y1="654.06" x2="436.05" y2="654.06" stroke="#111" stroke-width="1.15"/>
<rect x="446.25" y="637.80" width="15.20" height="47.60" fill="#e8bb28" stroke="#e6b40c" stroke-width="0.6"/>
<line x1="453.85" y1="636.50" x2="453.85" y2="638.51" stroke="#111" stroke-width="0.9"/>
<line x1="451.65" y1="636.50" x2="456.05" y2="636.50" stroke="#111" stroke-width="1.15"/>
<line x1="451.65" y1="638.51" x2="456.05" y2="638.51" stroke="#111" stroke-width="1.15"/>
<rect x="466.25" y="650.10" width="15.20" height="35.30" fill="#6aa546" stroke="#5ba232" stroke-width="0.6"/>
<line x1="473.85" y1="648.80" x2="473.85" y2="650.80" stroke="#111" stroke-width="0.9"/>
<line x1="471.65" y1="648.80" x2="476.05" y2="648.80" stroke="#111" stroke-width="1.15"/>
<line x1="471.65" y1="650.80" x2="476.05" y2="650.80" stroke="#111" stroke-width="1.15"/>
<text x="453.85" y="697.00" font-size="9.3" text-anchor="middle" font-weight="normal" fill="#1a1a1a" textLength="16.50" lengthAdjust="spacingAndGlyphs">BTZ</text>
<polyline points="429.80,631.00 429.80,625.50 451.50,625.50 451.50,631.00" fill="none" stroke="#111" stroke-width="1.1" stroke-linejoin="round"/>
<polygon points="436.85,619.30 437.31,620.37 438.47,620.47 437.59,621.24 437.85,622.38 436.85,621.78 435.85,622.38 436.11,621.24 435.23,620.47 436.39,620.37" fill="#111"/>
<polygon points="440.65,619.30 441.11,620.37 442.27,620.47 441.39,621.24 441.65,622.38 440.65,621.78 439.65,622.38 439.91,621.24 439.03,620.47 440.19,620.37" fill="#111"/>
<polygon points="444.45,619.30 444.91,620.37 446.07,620.47 445.19,621.24 445.45,622.38 444.45,621.78 443.45,622.38 443.71,621.24 442.83,620.47 443.99,620.37" fill="#111"/>
<polyline points="454.90,631.00 454.90,625.50 476.50,625.50 476.50,631.00" fill="none" stroke="#111" stroke-width="1.1" stroke-linejoin="round"/>
<polygon points="463.80,619.30 464.26,620.37 465.42,620.47 464.54,621.24 464.80,622.38 463.80,621.78 462.80,622.38 463.06,621.24 462.18,620.47 463.34,620.37" fill="#111"/>
<polygon points="467.60,619.30 468.06,620.37 469.22,620.47 468.34,621.24 468.60,622.38 467.60,621.78 466.60,622.38 466.86,621.24 465.98,620.47 467.14,620.37" fill="#111"/>
<rect x="343.85" y="589.75" width="4.20" height="4.20" fill="#2f4a7b"/>
<text x="351.75" y="594.75" font-size="8.6" text-anchor="start" font-weight="normal" fill="#1a1a1a" textLength="9.50" lengthAdjust="spacingAndGlyphs">EV</text>
<rect x="368.85" y="589.75" width="4.20" height="4.20" fill="#e8bb28"/>
<text x="376.75" y="594.75" font-size="8.6" text-anchor="start" font-weight="normal" fill="#1a1a1a" textLength="35.75" lengthAdjust="spacingAndGlyphs">EZH2 WT</text>
<rect x="419.60" y="589.75" width="4.20" height="4.20" fill="#6aa546"/>
<text x="427.00" y="594.75" font-size="8.6" text-anchor="start" font-weight="normal" fill="#1a1a1a" textLength="47.50" lengthAdjust="spacingAndGlyphs">EZH2 S220A</text>
<text transform="translate(290.80,637.70) rotate(-90)" x="0" y="0" font-size="10.6" text-anchor="middle" fill="#1a1a1a" textLength="76.8" lengthAdjust="spacingAndGlyphs">Relative viability (%)</text>
<rect x="0.7" y="0.7" width="518.6" height="705.6" fill="none" stroke="#000" stroke-width="1.4"/>
</svg>
</body></html>
